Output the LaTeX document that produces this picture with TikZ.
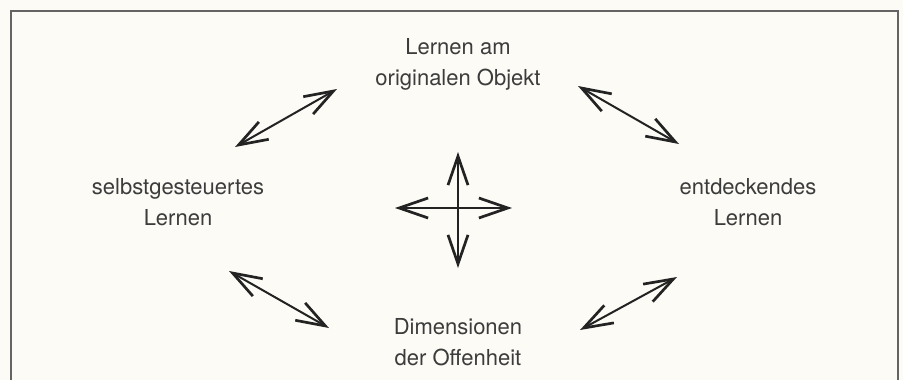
\documentclass[tikz,border=0pt]{standalone}
\usepackage{fontspec}
\setmainfont{TeX Gyre Heros}
\usetikzlibrary{arrows.meta,positioning}

\definecolor{paper}{RGB}{252,251,246}
\definecolor{ink}{RGB}{35,35,35}
\definecolor{textgrey}{RGB}{60,60,60}
\definecolor{framegrey}{RGB}{100,100,100}

\begin{document}
\begin{tikzpicture}[x=1pt, y=-1pt,
    idea/.style={inner sep=0pt, align=center, text=textgrey,
        font=\fontsize{22}{31}\selectfont},
    barb/.tip={Straight Barb[length=29pt, width=20pt, line width=2.7pt]},
    twoway/.style={draw=ink, line width=2pt, barb-barb},
    cross/.style={draw=ink, line width=1.4pt, barb-barb}]
    % Paper and open frame
    \fill[paper] (0,0) rectangle (903,380);
    \useasboundingbox (0,0) rectangle (903,380);
    \draw[framegrey, line width=1.2pt] (11,380) -- (11,11) -- (898,11) -- (898,380);

    % Top node
    \node[idea] (objekt) at (458,64) {Lernen am\\originalen Objekt};
    % Left node
    \node[idea] (selbst) at (178,202) {selbstgesteuertes\\Lernen};
    % Right node
    \node[idea] (entdeck) at (748,202) {entdeckendes\\Lernen};
    % Bottom node
    \node[idea] (offen) at (458,342) {Dimensionen\\der Offenheit};

    % Arrow ends
    \coordinate (tlA) at (235,147);
    \coordinate (tlB) at (337,89);
    \coordinate (trA) at (578,86);
    \coordinate (trB) at (679,144);
    \coordinate (blA) at (229,271);
    \coordinate (blB) at (329,328);
    \coordinate (brA) at (580,330);
    \coordinate (brB) at (677,277);

    % Diagonal arrows
    \draw[twoway] (tlA) -- (tlB);
    \draw[twoway] (trA) -- (trB);
    \draw[twoway] (blA) -- (blB);
    \draw[twoway] (brA) -- (brB);

    % Cross in the middle
    \coordinate (up) at (458,152);
    \coordinate (down) at (458,268);
    \coordinate (left) at (395,208);
    \coordinate (right) at (512,208);
    \draw[cross] (down) -- (up);
    \draw[cross] (left) -- (right);
\end{tikzpicture}
\end{document}
